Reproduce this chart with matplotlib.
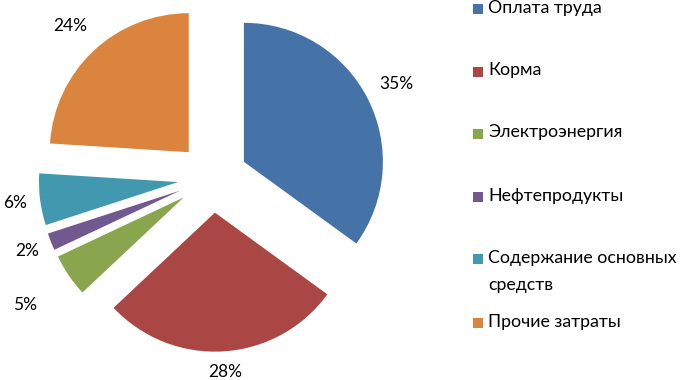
import numpy as np
import matplotlib
matplotlib.use("Agg")
import matplotlib.pyplot as plt
from matplotlib.patches import Rectangle

categories = ["Оплата труда", "Корма", "Электроэнергия", "Нефтепродукты",
              "Содержание основных\nсредств", "Прочие затраты"]
values = [35, 28, 5, 2, 6, 24]
pct_labels = ["35%", "28%", "5%", "2%", "6%", "24%"]
colors = ["#4572A7", "#AA4643", "#89A54E", "#71588F", "#4198AF", "#DB843D"]

W, H = 693, 380
fig = plt.figure(figsize=(W / 100, H / 100), dpi=100)
ax = fig.add_axes([0, 0, 1, 1])

center = (212.7, H - 177.7)
radius = 139
explode = [35] * len(values)

wedges, _ = ax.pie(values, colors=colors, startangle=90, counterclock=False,
                   radius=radius, center=center, explode=explode,
                   wedgeprops=dict(linewidth=0), frame=True)

label_dist = [1.23, 1.15, 1.38, 1.18, 1.18, 1.25]
font = ["Lato", "DejaVu Sans"]
for w, lab, k in zip(wedges, pct_labels, label_dist):
    th = np.deg2rad((w.theta1 + w.theta2) / 2)
    cx, cy = w.center
    ax.text(cx + k * w.r * np.cos(th), cy + k * w.r * np.sin(th), lab,
            ha="center", va="center", fontsize=12.5, color="#000000", family=font)

ax.set_xlim(0, W)
ax.set_ylim(0, H)
ax.set_aspect("auto")
ax.axis("off")

# legend
leg_y = [9, 72, 134, 197, 259, 323]
for cat, col, yy in zip(categories, colors, leg_y):
    y = H - yy
    ax.add_patch(Rectangle((473, y - 5), 10, 10, facecolor=col, edgecolor="none"))
    ax.text(488, y + 9.5, cat, ha="left", va="top", fontsize=12.8,
            family=font, linespacing=1.85, color="#000000")

fig.savefig("out.png", dpi=100)
